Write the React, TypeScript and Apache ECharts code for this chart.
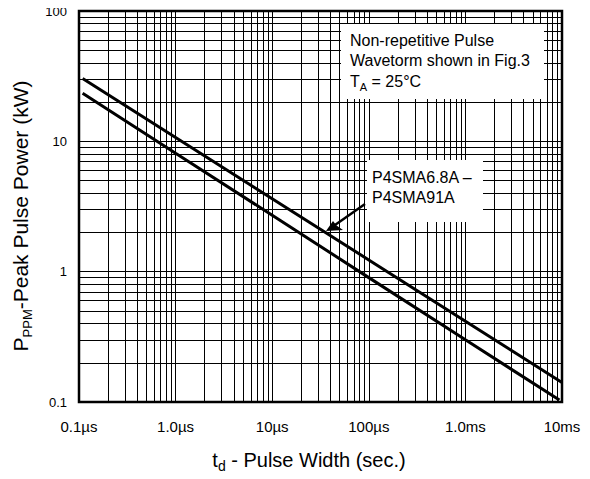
import React, { useEffect, useRef } from "react";
import * as echarts from "echarts";

// Tick labels
const X_TICK_LABELS = ["0.1µs", "1.0µs", "10µs", "100µs", "1.0ms", "10ms"];
const Y_TICK_LABELS = ["0.1", "1", "10", "100"];

// Axis ranges (x in µs, y in kW)
const X_MIN = 0.1;
const X_MAX = 10000;
const Y_MIN = 0.1;
const Y_MAX = 100;

// Upper curve
const T_UPPER = [0.109, 1, 10, 100, 1000, 10000];
const P_UPPER = [30.4, 10.7, 3.63, 1.23, 0.416, 0.141];
// Lower curve
const T_LOWER = [0.109, 1, 10, 100, 1000, 9400];
const P_LOWER = [23.4, 8.1, 2.71, 0.9, 0.3, 0.1035];

const MULTIPLIERS = [1, 2, 3, 4, 5, 6, 7, 8, 9];

function logGrid(min: number, max: number): number[] {
  const out: number[] = [];
  for (let e = Math.round(Math.log10(min)); e < Math.round(Math.log10(max)); e++) {
    for (const m of MULTIPLIERS) {
      const v = m * Math.pow(10, e);
      if (v > min * 1.0001 && v < max * 0.9999) out.push(v);
    }
  }
  return out;
}

const FONT = "'Liberation Sans', Arial, Helvetica, sans-serif";

export default function App() {
  const ref = useRef<HTMLDivElement>(null);
  useEffect(() => {
    if (!ref.current) return;
    const chart = echarts.init(ref.current, null, { renderer: "svg" });
    const gridX = logGrid(X_MIN, X_MAX);
    const gridY = logGrid(Y_MIN, Y_MAX);
    const gridLine = { color: "#000", width: 1, type: "solid" as const };

    chart.setOption({
      animation: false,
      backgroundColor: "#fff",
      textStyle: { fontFamily: FONT },
      grid: {
        left: 79,
        top: 11,
        right: 28,
        bottom: 77,
        show: true,
        borderColor: "#000",
        borderWidth: 2.5,
        backgroundColor: "transparent",
      },
      xAxis: {
        type: "log",
        logBase: 10,
        min: X_MIN,
        max: X_MAX,
        axisLine: { show: false },
        axisTick: { show: false },
        splitLine: { show: false },
        axisLabel: {
          fontSize: 15,
          color: "#000",
          fontFamily: FONT,
          margin: 17,
          showMinLabel: true,
          showMaxLabel: true,
          formatter: (v: number) => {
            const i = Math.round(Math.log10(v) - Math.log10(X_MIN));
            return X_TICK_LABELS[i] ?? "";
          },
        },
      },
      yAxis: {
        type: "log",
        logBase: 10,
        min: Y_MIN,
        max: Y_MAX,
        axisLine: { show: false },
        axisTick: { show: false },
        splitLine: { show: false },
        axisLabel: {
          fontSize: 13,
          color: "#000",
          fontFamily: FONT,
          margin: 12,
          showMinLabel: true,
          showMaxLabel: true,
          formatter: (v: number) => {
            const i = Math.round(Math.log10(v) - Math.log10(Y_MIN));
            return Y_TICK_LABELS[i] ?? "";
          },
        },
      },
      series: [
        {
          type: "line",
          data: [],
          z: 1,
          silent: true,
          markLine: {
            silent: true,
            symbol: "none",
            label: { show: false },
            lineStyle: gridLine,
            animation: false,
            data: [
              ...gridX.map((v) => ({ xAxis: v })),
              ...gridY.map((v) => ({ yAxis: v })),
            ],
          },
        },
        {
          type: "line",
          z: 5,
          showSymbol: false,
          silent: true,
          lineStyle: { color: "#000", width: 3 },
          data: T_UPPER.map((t, i) => [t, P_UPPER[i]]),
        },
        {
          type: "line",
          z: 5,
          showSymbol: false,
          silent: true,
          lineStyle: { color: "#000", width: 3 },
          data: T_LOWER.map((t, i) => [t, P_LOWER[i]]),
        },
      ],
      graphic: [
        {
          type: "rect",
          z: 100,
          shape: { x: 341, y: 24, width: 203, height: 75 },
          style: { fill: "#fff" },
        },
        {
          type: "text",
          z: 101,
          x: 350,
          y: 40,
          style: {
            text: "Non-repetitive Pulse",
            font: `16px ${FONT}`,
            fill: "#000",
            verticalAlign: "middle",
          },
        },
        {
          type: "text",
          z: 101,
          x: 350,
          y: 60,
          style: {
            text: "Wavetorm shown in Fig.3",
            font: `16px ${FONT}`,
            fill: "#000",
            verticalAlign: "middle",
          },
        },
        {
          type: "text",
          z: 101,
          x: 350,
          y: 81,
          style: {
            text: "{a|T}{s|A}{a| = 25°C}",
            fill: "#000",
            verticalAlign: "middle",
            rich: {
              a: { fontSize: 16, fontFamily: FONT, lineHeight: 22, verticalAlign: "middle" },
              s: { fontSize: 11, fontFamily: FONT, lineHeight: 11, verticalAlign: "bottom" },
            },
          },
        },
        {
          type: "rect",
          z: 100,
          shape: { x: 367, y: 160, width: 116, height: 62 },
          style: { fill: "#fff" },
        },
        {
          type: "text",
          z: 101,
          x: 372,
          y: 177,
          style: {
            text: "P4SMA6.8A –",
            font: `16px ${FONT}`,
            fill: "#000",
            verticalAlign: "middle",
          },
        },
        {
          type: "text",
          z: 101,
          x: 372,
          y: 197,
          style: {
            text: "P4SMA91A",
            font: `16px ${FONT}`,
            fill: "#000",
            verticalAlign: "middle",
          },
        },
        {
          type: "line",
          z: 102,
          shape: { x1: 365, y1: 204, x2: 335, y2: 225 },
          style: { stroke: "#000", lineWidth: 2.5 },
        },
        {
          type: "polygon",
          z: 102,
          shape: { points: [[326, 231], [333, 221], [336.5, 225.5], [343, 230]] },
          style: { fill: "#000" },
        },
        {
          type: "text",
          z: 101,
          x: 309,
          y: 447,
          style: {
            text: "{a|t}{s|d}{a| - Pulse Width (sec.)}",
            fill: "#000",
            align: "center",
            verticalAlign: "top",
            rich: {
              a: { fontSize: 20, fontFamily: FONT, lineHeight: 26, verticalAlign: "middle" },
              s: { fontSize: 14, fontFamily: FONT, lineHeight: 14, verticalAlign: "bottom" },
            },
          },
        },
        {
          type: "text",
          z: 101,
          x: 20,
          y: 216,
          rotation: Math.PI / 2,
          style: {
            text: "{a|P}{s|PPM}{a|-Peak Pulse Power (kW)}",
            fill: "#000",
            align: "center",
            verticalAlign: "middle",
            rich: {
              a: { fontSize: 21, fontFamily: FONT, lineHeight: 28, verticalAlign: "middle" },
              s: { fontSize: 13, fontFamily: FONT, lineHeight: 13, verticalAlign: "bottom" },
            },
          },
        },
      ],
    });
    return () => chart.dispose();
  }, []);
  return <div ref={ref} style={{ width: 590, height: 479, margin: -8 }} />;
}
